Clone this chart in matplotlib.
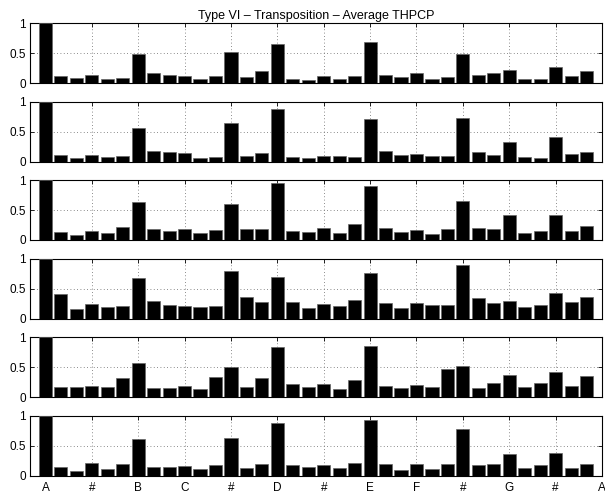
import matplotlib
matplotlib.use('Agg')
import matplotlib.pyplot as plt
import numpy as np

plt.rcParams['font.family'] = ['Liberation Sans', 'DejaVu Sans']

title = 'Type VI \u2013 Transposition \u2013 Average THPCP'
tick_labels = ['A', '#', 'B', 'C', '#', 'D', '#', 'E', 'F', '#', 'G', '#', 'A']

# average THPCP, 36 bins per panel
row1 = [1.0, 0.114, 0.08, 0.137, 0.07, 0.086, 0.486, 0.17, 0.126, 0.12, 0.07, 0.12,
        0.514, 0.10, 0.20, 0.646, 0.074, 0.057, 0.12, 0.074, 0.114, 0.686, 0.137, 0.10,
        0.166, 0.07, 0.10, 0.486, 0.126, 0.16, 0.217, 0.07, 0.07, 0.27, 0.114, 0.206]
row2 = [1.0, 0.114, 0.063, 0.114, 0.08, 0.086, 0.566, 0.183, 0.166, 0.137, 0.063, 0.07,
        0.64, 0.10, 0.137, 0.874, 0.08, 0.057, 0.097, 0.086, 0.08, 0.72, 0.17, 0.114,
        0.131, 0.086, 0.097, 0.737, 0.154, 0.109, 0.326, 0.07, 0.063, 0.411, 0.12, 0.16]
row3 = [1.0, 0.126, 0.091, 0.154, 0.109, 0.223, 0.634, 0.189, 0.154, 0.189, 0.109, 0.16,
        0.606, 0.177, 0.189, 0.96, 0.143, 0.137, 0.194, 0.114, 0.269, 0.909, 0.206, 0.131,
        0.16, 0.097, 0.177, 0.657, 0.20, 0.177, 0.411, 0.109, 0.143, 0.423, 0.143, 0.229]
row4 = [1.0, 0.417, 0.16, 0.24, 0.189, 0.217, 0.68, 0.297, 0.223, 0.206, 0.194, 0.211,
        0.794, 0.366, 0.28, 0.697, 0.274, 0.171, 0.24, 0.206, 0.303, 0.766, 0.257, 0.177,
        0.257, 0.229, 0.229, 0.897, 0.337, 0.257, 0.297, 0.20, 0.234, 0.429, 0.274, 0.366]
row5 = [1.0, 0.16, 0.16, 0.189, 0.166, 0.314, 0.571, 0.149, 0.154, 0.189, 0.131, 0.331,
        0.509, 0.16, 0.32, 0.84, 0.223, 0.171, 0.223, 0.137, 0.286, 0.851, 0.189, 0.154,
        0.194, 0.171, 0.474, 0.514, 0.154, 0.24, 0.366, 0.16, 0.24, 0.417, 0.177, 0.354]
row6 = [1.0, 0.143, 0.069, 0.206, 0.114, 0.189, 0.606, 0.137, 0.137, 0.166, 0.109, 0.177,
        0.634, 0.12, 0.194, 0.88, 0.171, 0.137, 0.177, 0.131, 0.211, 0.931, 0.20, 0.086,
        0.20, 0.103, 0.194, 0.771, 0.171, 0.189, 0.354, 0.12, 0.183, 0.383, 0.12, 0.20]
rows = [row1, row2, row3, row4, row5, row6]

fig = plt.figure(figsize=(6.05, 4.98), dpi=100)
W, H = 605.0, 498.0
left, right = 30.0, 602.0
top0, step, height = 23.3, 78.5, 59.7

bins = np.arange(1, 37)
xticks = np.arange(1, 38, 3)

for i, vals in enumerate(rows):
    top = top0 + i * step
    ax = fig.add_axes([left / W, 1 - (top + height) / H, (right - left) / W, height / H])
    ax.bar(bins, vals, width=0.85, color='black', edgecolor='#666666', linewidth=0.5, zorder=3)
    ax.set_xlim(0, 37)
    ax.set_ylim(0, 1)
    ax.set_xticks(xticks)
    ax.set_yticks([0, 0.5, 1])
    ax.set_yticklabels(['0', '0.5', '1'])
    if i == len(rows) - 1:
        ax.set_xticklabels(tick_labels)
    else:
        ax.set_xticklabels([])
    ax.grid(True, linestyle=(0, (1, 3)), color='#666666', linewidth=0.6, zorder=0)
    ax.tick_params(direction='in', length=3, width=0.6, top=True, right=True,
                   labelsize=8.5, colors='black')
    ax.tick_params(axis='x', pad=5)
    ax.tick_params(axis='y', pad=3)
    for s in ax.spines.values():
        s.set_linewidth(0.8)
    if i == 0:
        ax.set_title(title, fontsize=9, pad=3)

fig.savefig('out.png', dpi=100)
